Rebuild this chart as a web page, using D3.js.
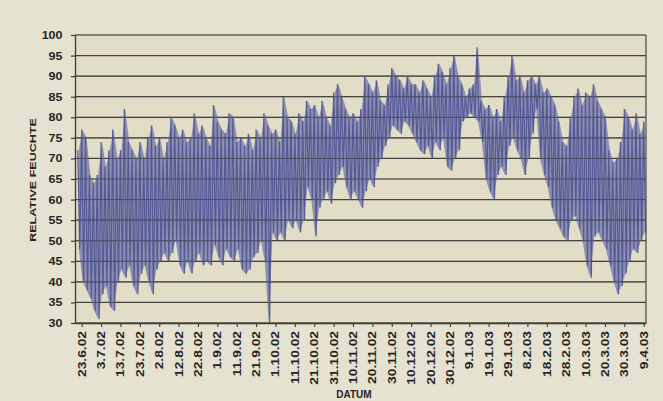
<!DOCTYPE html>
<html><head><meta charset="utf-8">
<script src="https://cdn.jsdelivr.net/npm/d3@7"></script>
<style>html,body{margin:0;padding:0;background:#e7e3d2;}svg{display:block;}</style>
</head><body>
<svg id="c" width="663" height="401"></svg>
<script>
// Days counted from 23.6.02 (day 0); one hi/lo pair every 2 days starting at day -2
const startDay = -2;
const stepDays = 2;
const hiVals = [72,77,75,66,64,66,74,68,72,77,70,72,82,74,72,70,74,70,75,78,73,75,70,74,80,78,75,77,74,75,
  81,76,78,75,73,83,79,77,76,81,80,74,75,73,76,72,77,75,81,78,76,77,74,85,80,79,76,81,79,84,
  82,83,80,84,80,78,86,88,85,82,80,81,79,82,90,88,86,89,84,83,88,92,90,89,87,90,88,88,86,89,
  87,85,90,93,91,88,92,95,90,88,85,87,88,97,84,82,83,80,82,79,85,90,95,89,90,86,89,90,88,90,
  86,87,85,83,79,74,73,80,85,87,83,86,85,88,84,82,80,72,69,70,74,82,80,77,81,76,79];
const loVals = [48,40,38,36,33,31,37,39,34,33,40,43,41,44,39,37,42,44,40,37,43,45,47,45,47,50,44,42,45,42,
  45,47,44,45,44,49,46,44,48,46,45,48,43,42,43,46,47,50,45,30,52,50,52,50,55,53,55,52,55,63,
  60,51,58,60,62,59,64,66,68,63,60,62,60,58,62,65,63,68,70,73,75,78,77,76,79,78,76,74,72,71,
  73,70,74,72,75,68,67,70,72,79,80,81,80,79,74,65,62,60,66,68,66,73,75,72,70,66,70,76,82,70,
  66,63,58,55,53,51,50,55,56,53,50,44,41,51,52,50,48,44,40,37,39,42,45,48,47,50,52];
const xTickLabels = ["23.6.02","3.7.02","13.7.02","23.7.02","2.8.02","12.8.02","22.8.02","1.9.02","11.9.02","21.9.02",
  "1.10.02","11.10.02","21.10.02","31.10.02","10.11.02","20.11.02","30.11.02","10.12.02","20.12.02","30.12.02",
  "9.1.03","19.1.03","29.1.03","8.2.03","18.2.03","28.2.03","10.3.03","20.3.03","30.3.03","9.4.03"];
const yTickValues = [30,35,40,45,50,55,60,65,70,75,80,85,90,95,100];
const yTitle = "RELATIVE FEUCHTE";
const xTitle = "DATUM";

const svg = d3.select("#c");
const L = 75, R = 646, T = 35, B = 323;
const x = d3.scaleLinear().domain([-3.45, 291.2]).range([L, R]);
const y = d3.scaleLinear().domain([30, 100]).range([B, T]);
const FONT = "Liberation Sans, Arial, sans-serif";

svg.append("rect").attr("width",663).attr("height",401).attr("fill","#e6e2d1");
svg.append("rect").attr("x",L).attr("y",T).attr("width",R-L).attr("height",B-T).attr("fill","#e2ddc7");

// gridlines
const grid = svg.append("g");
grid.selectAll("line").data(yTickValues).join("line")
  .attr("x1",L).attr("x2",R).attr("y1",d=>y(d)).attr("y2",d=>y(d))
  .attr("stroke","#4b4a3f").attr("stroke-width",1.2);

// data: envelope band + zigzag between hi and lo
const pts = [];
hiVals.forEach((h,i)=>{
  const d = startDay + i*stepDays;
  pts.push([d, h]);
  pts.push([d+1, loVals[i]]);
});
const area = d3.area().x((d,i)=>x(startDay+i*stepDays+0.5)).y0((d,i)=>y(loVals[i])).y1(d=>y(d)).curve(d3.curveLinear);
svg.append("path").datum(hiVals).attr("d",area).attr("fill","#6e72a8").attr("opacity",0.72);
const line = d3.line().x(d=>x(d[0])).y(d=>y(d[1]));
svg.append("path").datum(pts).attr("d",line).attr("fill","none")
  .attr("stroke","#555a96").attr("stroke-width",1.2).attr("stroke-linejoin","miter");

// gridlines showing through the band (as in the scan)
svg.append("g").selectAll("line").data(yTickValues).join("line")
  .attr("x1",L).attr("x2",R).attr("y1",d=>y(d)).attr("y2",d=>y(d))
  .attr("stroke","#3c3b38").attr("stroke-width",1.1).attr("opacity",0.45);

// right border
svg.append("line").attr("x1",R).attr("x2",R).attr("y1",T).attr("y2",B).attr("stroke","#4b4a3f").attr("stroke-width",1.2);

// y axis
const ya = svg.append("g").attr("transform",`translate(${L},0)`)
  .call(d3.axisLeft(y).tickValues(yTickValues).tickSize(4).tickSizeOuter(0));
ya.select(".domain").attr("stroke","#3a3a32").attr("stroke-width",1.3);
ya.selectAll(".tick line").attr("stroke","#3a3a32").attr("stroke-width",1.2);
ya.selectAll("text").attr("x",0).attr("dy","0.35em")
  .attr("transform","translate(-12.5,0) scale(1.25,1)")
  .attr("font-family",FONT).attr("font-weight","bold")
  .attr("font-size",10).attr("fill","#262522");

// x axis
const xa = svg.append("g").attr("transform",`translate(0,${B})`)
  .call(d3.axisBottom(x).tickValues(d3.range(0, 300, 10)).tickFormat((d,i)=>xTickLabels[i]).tickSize(4).tickSizeOuter(0));
xa.select(".domain").attr("stroke","#3a3a32").attr("stroke-width",1.3);
xa.selectAll(".tick line").attr("stroke","#3a3a32").attr("stroke-width",1.1);
xa.selectAll("text").attr("x",0).attr("y",0).attr("dy","0.35em").attr("text-anchor","end")
  .attr("transform","translate(0,8) rotate(-90) scale(1.38,1)")
  .attr("font-family",FONT).attr("font-weight","bold")
  .attr("font-size",10).attr("fill","#262522");

// titles
svg.append("text").attr("transform","translate(36,180) rotate(-90) scale(1.35,1)")
  .attr("text-anchor","middle").attr("font-family",FONT)
  .attr("font-weight","bold").attr("font-size",9.3).attr("fill","#262522").text(yTitle);
svg.append("text").attr("transform","translate(354,398)")
  .attr("text-anchor","middle").attr("font-family",FONT)
  .attr("font-weight","bold").attr("font-size",10).attr("fill","#262522").text(xTitle);
</script>
</body></html>
